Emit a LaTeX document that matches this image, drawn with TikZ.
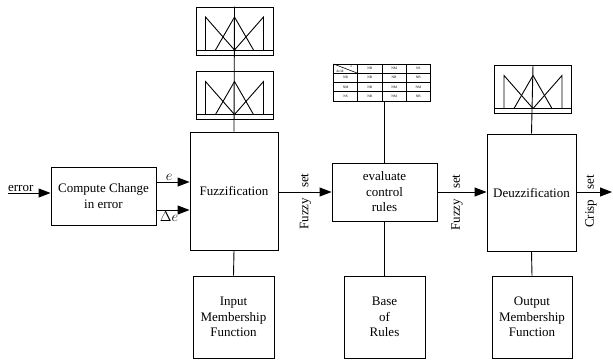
\documentclass[tikz,border=0pt]{standalone}
\usepackage{fontspec}
\setmainfont{Liberation Serif}
\usetikzlibrary{arrows.meta}

\tikzset{
  blockbox/.style={draw, line width=0.9pt, align=center, inner sep=2pt,
    font=\fontsize{13}{15.5}\selectfont},
  flowarrow/.style={line width=0.9pt, -{Triangle[length=12pt,width=9pt]}},
  link/.style={line width=0.9pt},
  mfframe/.style={draw, line width=0.9pt, minimum width=77pt, minimum height=48pt, inner sep=0pt},
  sidelabel/.style={rotate=90, inner sep=0pt, font=\fontsize{13}{15.5}\selectfont},
  varlabel/.style={font=\fontsize{14}{16}\selectfont},
  celltext/.style={inner sep=0pt, font=\fontsize{3.5}{4}\selectfont}
}

% triangles of a membership function plot, #1,#2 = centre of its frame
\newcommand{\mfcurves}[2]{%
  \begin{scope}[shift={(#1,#2)}, line width=0.9pt]
    \draw (-38.5,19) -- (38.5,19);
    \draw (-29,19) -- (-29,-14) -- (0,19);
    \draw (-19,19) -- (0,-14) -- (19,19);
    \draw (0,19) -- (29,-14) -- (29,19);
  \end{scope}}

\begin{document}
\begin{tikzpicture}[x=1pt, y=-1pt]
  \useasboundingbox (0,0) rectangle (613,360);

  % main blocks
  \node[blockbox, minimum width=105pt, minimum height=58pt] (compute) at (103.5,196) {Compute Change\\in error};
  \node[blockbox, minimum width=88pt, minimum height=118pt] (fuzz) at (234,191) {Fuzzification};
  \node[blockbox, minimum width=105pt, minimum height=58pt] (eval) at (384.5,192) {evaluate\\control\\rules};
  \node[blockbox, minimum width=89pt, minimum height=117pt] (defuzz) at (531.5,192.5) {Deuzzification};
  \node[blockbox, minimum width=81pt, minimum height=82pt] (inmf) at (233.5,317) {Input\\Membership\\Function};
  \node[blockbox, minimum width=81pt, minimum height=82pt] (base) at (384.5,317) {Base\\of\\Rules};
  \node[blockbox, minimum width=80pt, minimum height=82pt] (outmf) at (532,317) {Output\\Membership\\Function};

  % membership plots
  \node[mfframe] (mfa) at (234.5,31) {};
  \node[mfframe] (mfb) at (234.5,95.5) {};
  \node[mfframe] (mfc) at (533,89.5) {};
  \mfcurves{234.5}{31}
  \mfcurves{234.5}{95.5}
  \mfcurves{533}{89.5}

  % rule table
  \node[draw, line width=0.9pt, minimum width=97pt, minimum height=37pt, inner sep=0pt] (ruletab) at (382,82.5) {};
  \begin{scope}[shift={(333.5,64)}, line width=0.6pt]
    \foreach \i in {1,2,3} {
      \draw (\i*24.25,0) -- (\i*24.25,37);
      \draw (0,\i*9.25) -- (97,\i*9.25);
    }
    \draw (0,0) -- (24.25,9.25);
    \node[celltext] at (18,2.6) {e};
    \node[celltext] at (6.5,7) {de/dt};
    \foreach \c [count=\k] in {NB,NM,NS}
      \node[celltext] at (\k*24.25+12.1,4.6) {\c};
    \foreach \row [count=\r] in {{NB,NB,NB,NB},{NM,NB,NM,NM},{NS,NB,NM,NB}} {
      \foreach \c [count=\k from 0] in \row
        \node[celltext] at (\k*24.25+12.1,\r*9.25+4.6) {\c};
    }
  \end{scope}

  % signal flow
  \coordinate (errin) at (8,193);
  \coordinate (crispout) at (612,192);
  \draw[flowarrow] (errin) -- (errin -| compute.west)
    node[pos=0.3, above, inner sep=1pt, font=\fontsize{13}{15.5}\selectfont] {error};
  \draw[flowarrow] ([yshift=14pt]compute.east) coordinate (ea) -- (ea -| fuzz.west)
    node[varlabel, pos=0.38, above, inner sep=1pt] {$e$};
  \draw[flowarrow] ([yshift=-14pt]compute.east) coordinate (de) -- (de -| fuzz.west)
    node[varlabel, pos=0.38, below, inner sep=1.5pt] {$\Delta e$};
  \draw[flowarrow] (fuzz.east |- eval.west) -- (eval.west);
  \draw[flowarrow] (eval.east) -- (defuzz.west |- eval.east);
  \draw[flowarrow] (defuzz.east |- crispout) -- (crispout);
  \node[sidelabel] (fset1) at (305.5,201.5) {Fuzzy\hspace{10pt}set};
  \node[sidelabel] (fset2) at (457,202.5) {Fuzzy\hspace{10pt}set};
  \node[sidelabel] (cset) at (591,201.5) {Crisp\hspace{10pt}set};

  % links to knowledge blocks
  \draw[link] (mfa.north) -- (fuzz.north);
  \draw[link] (eval.north |- ruletab.south) -- (eval.north);
  \draw[link] (mfc.north) -- (defuzz.north);
  \draw[link] (fuzz.south) -- (inmf.north);
  \draw[link] (eval.south) -- (base.north);
  \draw[link] (defuzz.south) -- (outmf.north);
\end{tikzpicture}
\end{document}
